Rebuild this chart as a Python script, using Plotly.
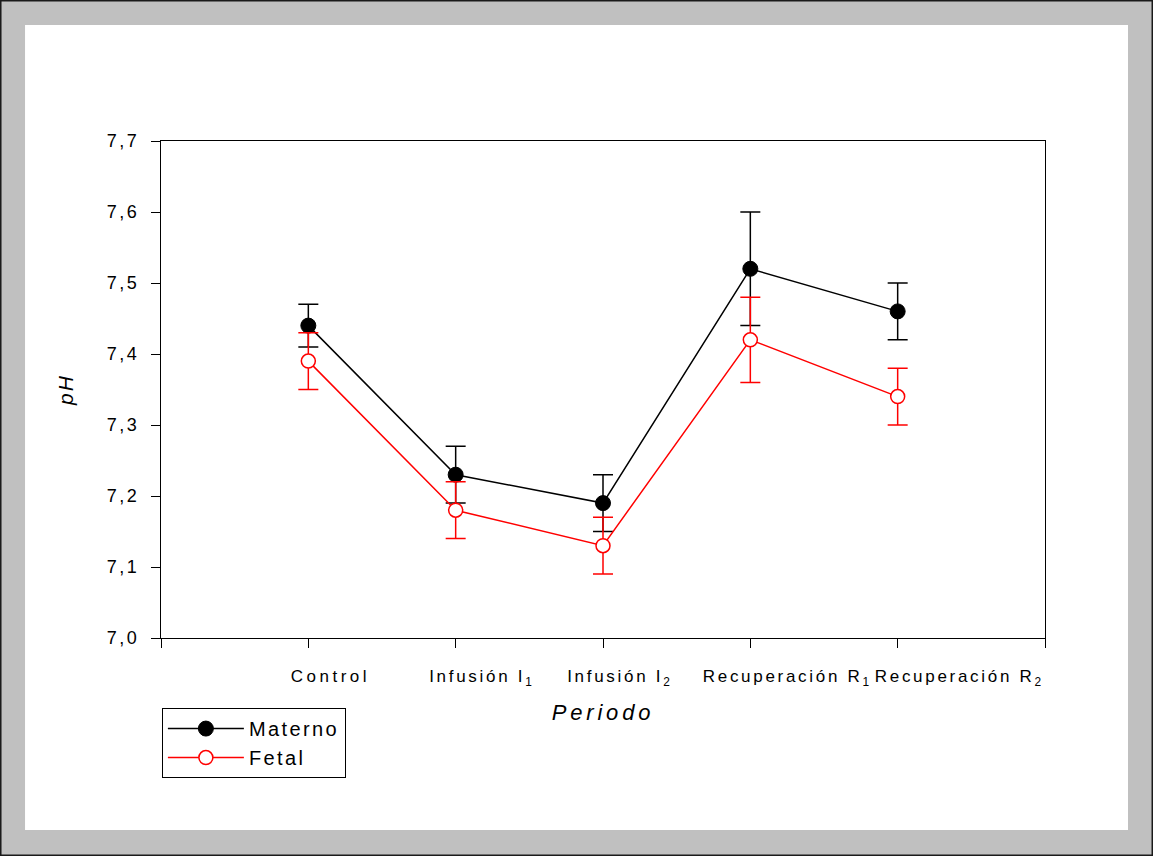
import plotly.graph_objects as go

periods = ["Control", "Infusión I<sub>1</sub>", "Infusión I<sub>2</sub>",
           "Recuperación R<sub>1</sub>", "Recuperación R<sub>2</sub>"]
xpos = [1, 2, 3, 4, 5]
materno = [7.44, 7.23, 7.19, 7.52, 7.46]
materno_err = [0.03, 0.04, 0.04, 0.08, 0.04]
fetal = [7.39, 7.18, 7.13, 7.42, 7.34]
fetal_err = [0.04, 0.04, 0.04, 0.06, 0.04]
yticks = [7.0, 7.1, 7.2, 7.3, 7.4, 7.5, 7.6, 7.7]
label_shift = [22, 26, 17, 37, 62]

FONT = "Liberation Sans, Arial, sans-serif"

fig = go.Figure()
fig.add_trace(go.Scatter(
    x=xpos, y=materno, name="Materno", mode="lines+markers",
    line=dict(color="black", width=1.5),
    marker=dict(symbol="circle", size=15, color="black", line=dict(color="black", width=1)),
    error_y=dict(type="data", array=materno_err, color="black", thickness=1.5, width=10),
))
fig.add_trace(go.Scatter(
    x=xpos, y=fetal, name="Fetal", mode="lines+markers",
    line=dict(color="#ff0000", width=1.5),
    marker=dict(symbol="circle", size=14, color="white", line=dict(color="#ff0000", width=1.5)),
    error_y=dict(type="data", array=fetal_err, color="#ff0000", thickness=1.5, width=10),
))

# inner white panel on the gray frame, and thin dark outer edge
fig.add_shape(type="rect", xref="paper", yref="paper", x0=-0.1538, x1=1.0939,
              y0=-0.3863, y1=1.2334, fillcolor="white", line=dict(width=0), layer="below")
fig.add_shape(type="rect", xref="paper", yref="paper", x0=-0.1821, x1=1.1222,
              y0=-0.4386, y1=1.2837, fillcolor="rgba(0,0,0,0)",
              line=dict(width=3, color="#1a1a1a"), layer="above")

for xp, lab, sh in zip(xpos, periods, label_shift):
    fig.add_annotation(x=xp, y=0, xref="x", yref="paper", text=lab, showarrow=False,
                       yanchor="top", yshift=-27, xshift=sh,
                       font=dict(family=FONT, size=17, color="black"))

fig.update_layout(
    width=1153, height=856,
    margin=dict(l=161, r=108, t=141, b=218),
    paper_bgcolor="#c0c0c0", plot_bgcolor="white",
    separators=",.",
    font=dict(family=FONT, size=17, color="black"),
    showlegend=True,
    legend=dict(x=0.001, y=-0.141, xanchor="left", yanchor="top",
                bordercolor="black", borderwidth=1, bgcolor="white",
                font=dict(family=FONT, size=19.9), tracegroupgap=0,
                itemwidth=76),
    xaxis=dict(range=[0, 6], tickvals=[0, 1, 2, 3, 4, 5, 6], showticklabels=False,
               ticks="outside", ticklen=9, tickwidth=1, tickcolor="black",
               showline=True, linecolor="black", linewidth=1, mirror=True,
               showgrid=False, zeroline=False,
               title=dict(text="<i>Periodo</i>", font=dict(family=FONT, size=22), standoff=57)),
    yaxis=dict(range=[7.0, 7.7], tickvals=yticks, tickformat=".1f",
               ticks="outside", ticklen=9, tickwidth=1, tickcolor="black",
               ticklabelstandoff=8,
               showline=True, linecolor="black", linewidth=1, mirror=True,
               showgrid=False, zeroline=False,
               tickfont=dict(family=FONT, size=18),
               title=dict(text="<i>pH</i>", font=dict(family=FONT, size=21), standoff=35)),
)

post = """
var gd = document.getElementById('{plot_id}');
var st = document.createElement('style');
st.textContent = '.annotation-text{letter-spacing:2.7px}' +
  '.annotation[data-index="0"] .annotation-text{letter-spacing:3.5px}' +
  '.legendtext{letter-spacing:2.4px}' +
  '.ytick text{letter-spacing:2.5px}' +
  '.g-xtitle text{letter-spacing:3.8px}' +
  '.g-ytitle text{letter-spacing:2px}';
document.head.appendChild(st);
Plotly.relayout(gd, {'legend.font.size': 20});
"""

fig.write_html("out.html", post_script=post)
